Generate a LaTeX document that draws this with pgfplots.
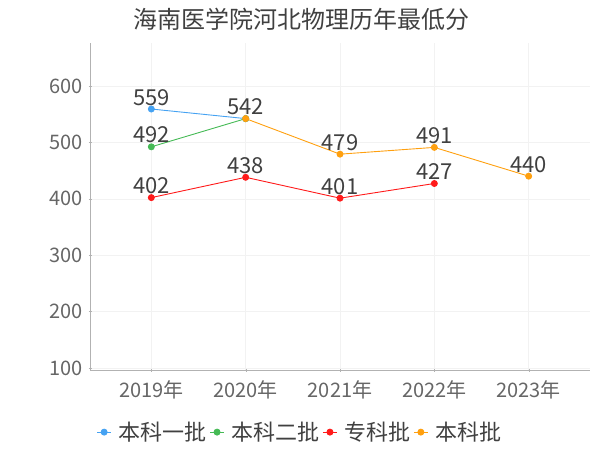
\documentclass[border=0pt]{standalone}
\usepackage{fontspec}
\setmainfont{Noto Sans CJK SC}
\usepackage{pgfplots}
\pgfplotsset{compat=1.18}
\definecolor{cblue}{HTML}{45A2F2}
\definecolor{cgreen}{HTML}{45BA55}
\definecolor{cred}{HTML}{FF1A1A}
\definecolor{corange}{HTML}{FFA00F}
\definecolor{txt}{HTML}{404040}
\definecolor{tick}{HTML}{666666}
\begin{document}
\begin{tikzpicture}
\path[use as bounding box] (0pt,0pt) rectangle (600pt,450pt);
\node[font=\fontsize{24}{27}\selectfont, text=txt] at (301pt,431pt) {海南医学院河北物理历年最低分};
\begin{axis}[at={(90pt,80pt)}, anchor=south west, scale only axis,
  width=500pt, height=327pt,
  xmin=-0.65, xmax=4.65, ymin=96.5, ymax=676,
  axis x line=bottom, axis y line=left,
  axis line style={draw=black!30, -},
  xtick={0,1,2,3,4},
  xticklabels={2019年,2020年,2021年,2022年,2023年},
  ytick={100,200,300,400,500,600},
  grid=major, grid style={black!5},
  tick style={draw=black!30}, major tick length=3pt,
  tick label style={font=\fontsize{20}{23}\selectfont, text=tick},
  xticklabel style={yshift=-6pt},
  yticklabel style={xshift=-2pt},
  /pgf/number format/assume math mode=true,
  legend style={at={(0.42,-0.19)}, anchor=center, draw=none, fill=none,
    font=\fontsize{22}{25}\selectfont, text=txt, inner xsep=0pt,
    /tikz/every even column/.append style={column sep=1pt},
    /tikz/every odd column/.append style={column sep=5pt},
    /tikz/every node/.append style={inner xsep=2pt}},
  legend columns=4,
  legend image code/.code={\draw[mark repeat=2,mark phase=2] plot coordinates {(0pt,0pt) (7pt,0pt) (14pt,0pt)};},
  point meta=explicit symbolic,
  nodes near coords,
  every node near coord/.append style={font=\fontsize{22}{25}\selectfont, text=txt, anchor=base, yshift=4pt, inner sep=0pt},
  every axis plot/.append style={line width=0.9pt, mark=*, mark size=3pt},
]
\addplot[color=cblue, mark options={fill=cblue, draw=cblue}] coordinates {(0,559) [559] (1,542) [{}]};
\addlegendentry{本科一批}
\addplot[color=cgreen, mark options={fill=cgreen, draw=cgreen}] coordinates {(0,492) [492] (1,542) [{}]};
\addlegendentry{本科二批}
\addplot[color=cred, mark options={fill=cred, draw=cred}] coordinates {(0,402) [402] (1,438) [438] (2,401) [401] (3,427) [427]};
\addlegendentry{专科批}
\addplot[color=corange, mark options={fill=corange, draw=corange}] coordinates {(1,542) [542] (2,479) [479] (3,491) [491] (4,440) [440]};
\addlegendentry{本科批}
\end{axis}
\end{tikzpicture}
\end{document}
